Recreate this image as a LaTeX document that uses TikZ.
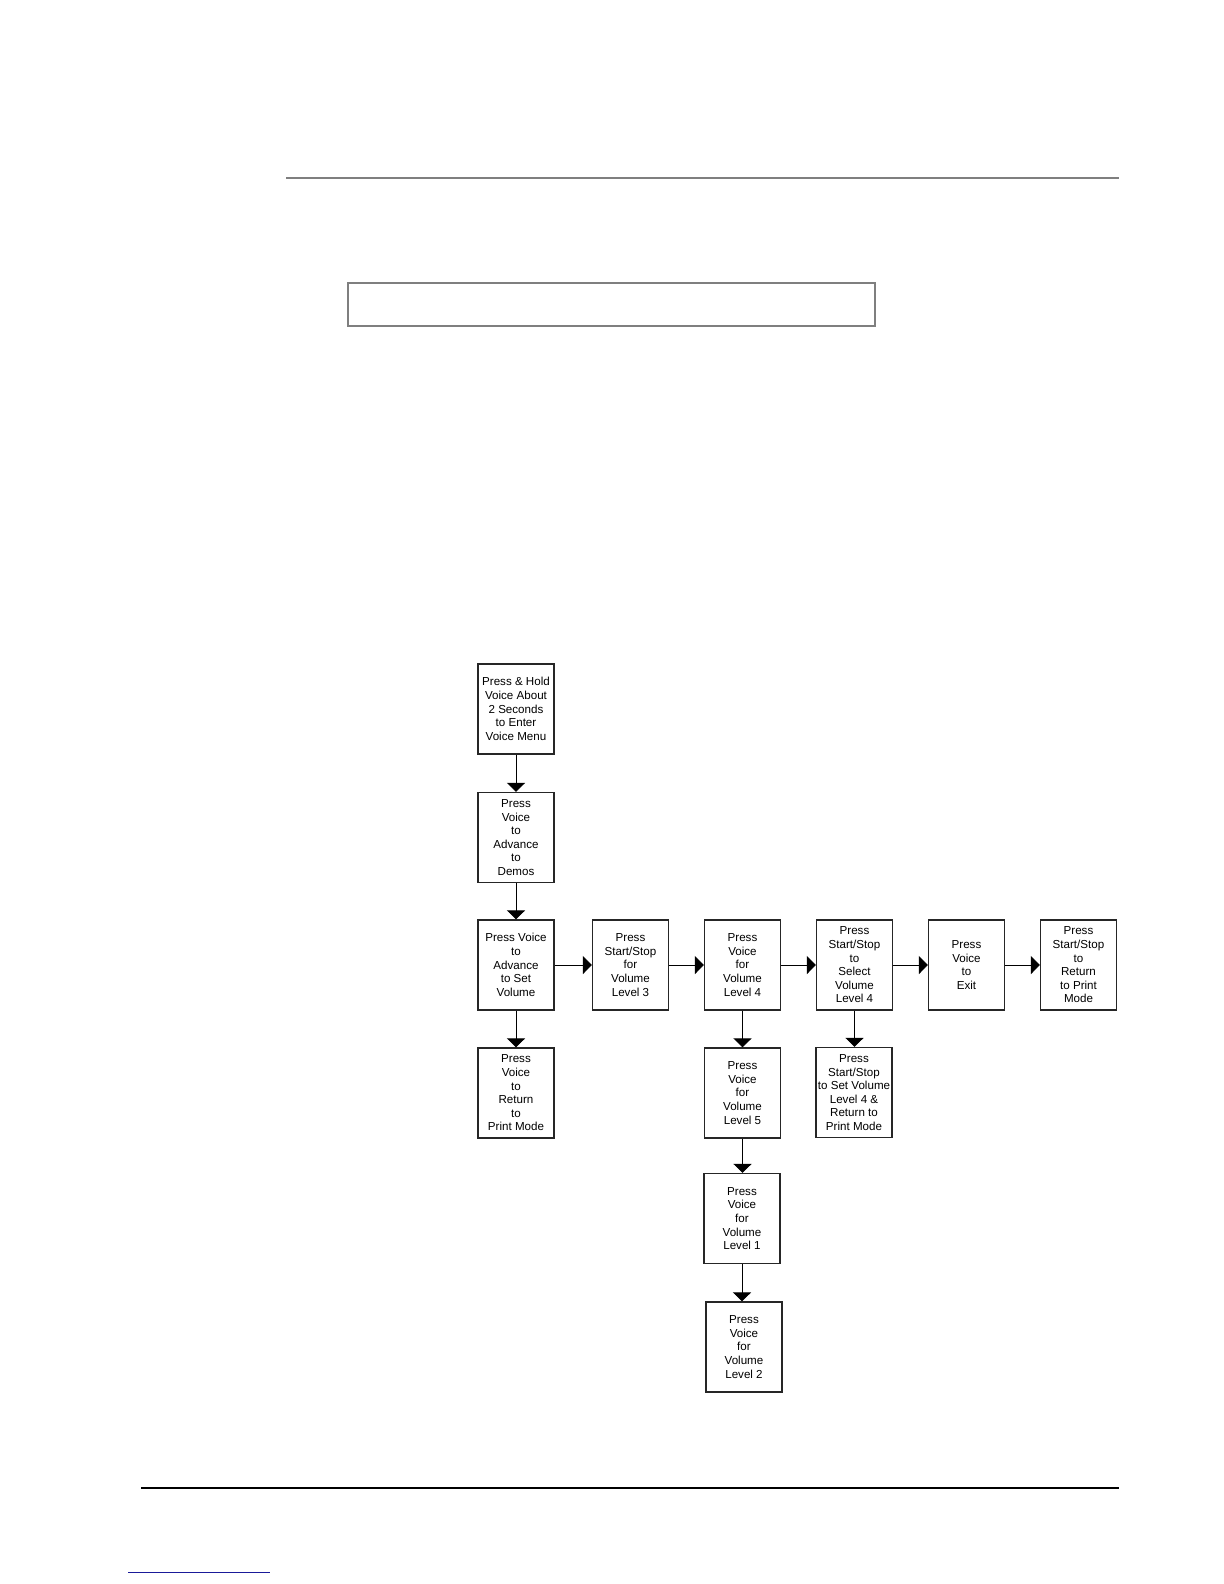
\documentclass[tikz,border=0pt]{standalone}
\usepackage{fontspec}
\setmainfont{Liberation Sans}
\usetikzlibrary{arrows.meta}
\definecolor{rulegray}{HTML}{7F7F7F}
\definecolor{linkblue}{HTML}{1A1A99}

\tikzset{
  flowbox/.style={draw=black!85, line width=0.6bp, fill=white, minimum width=38bp,
    minimum height=45bp, inner sep=0pt, align=center,
    font=\fontsize{5.8bp}{6.8bp}\selectfont},
  flowarrow/.style={-{Triangle[length=4.5bp, width=9bp]}, line width=0.5bp, black}
}

\begin{document}
\begin{tikzpicture}[x=0.5bp, y=-0.5bp]
    \useasboundingbox (0,0) rectangle (1224,1584);
    % page rules
    \draw[rulegray, line width=0.7bp] (286,178) -- (1119,178);
    \draw[rulegray, line width=0.7bp] (348,283) rectangle (875,326);
    \draw[black, line width=0.6bp] (141,1488) -- (1119,1488);
    \draw[linkblue, line width=0.5bp] (128,1572) -- (270,1572);

    % main column
    \node[flowbox] (hold) at (516,709) {Press \& Hold\\Voice About\\2 Seconds\\to Enter\\Voice Menu};
    \node[flowbox] (demos) at (516,837.5) {Press\\Voice\\to\\Advance\\to\\Demos};
    \node[flowbox] (setvol) at (516,965) {Press Voice\\to\\Advance\\to Set\\Volume};
    \node[flowbox] (retprint) at (516,1093) {Press\\Voice\\to\\Return\\to\\Print Mode};

    % volume row
    \node[flowbox] (lvl3) at (630.5,965) {Press\\Start/Stop\\for\\Volume\\Level 3};
    \node[flowbox] (lvl4) at (742.5,965) {Press\\Voice\\for\\Volume\\Level 4};
    \node[flowbox] (select) at (854.5,965) {Press\\Start/Stop\\to\\Select\\Volume\\Level 4};
    \node[flowbox] (exit) at (966.5,965) {Press\\Voice\\to\\Exit};
    \node[flowbox] (retmode) at (1078.5,965) {Press\\Start/Stop\\to\\Return\\to Print\\Mode};

    % branches below
    \node[flowbox] (setret) at (854,1092.5) {Press\\Start/Stop\\to Set Volume\\Level 4 \&\\Return to\\Print Mode};
    \node[flowbox] (lvl5) at (742.5,1093) {Press\\Voice\\for\\Volume\\Level 5};
    \node[flowbox] (lvl1) at (742,1218.5) {Press\\Voice\\for\\Volume\\Level 1};
    \node[flowbox] (lvl2) at (744,1347) {Press\\Voice\\for\\Volume\\Level 2};

    \draw[flowarrow] (hold) -- (demos);
    \draw[flowarrow] (demos) -- (setvol);
    \draw[flowarrow] (setvol) -- (retprint);
    \draw[flowarrow] (setvol) -- (lvl3);
    \draw[flowarrow] (lvl3) -- (lvl4);
    \draw[flowarrow] (lvl4) -- (select);
    \draw[flowarrow] (select) -- (exit);
    \draw[flowarrow] (exit) -- (retmode);
    \draw[flowarrow] (select.south) -- (select.south |- setret.north);
    \draw[flowarrow] (lvl4) -- (lvl5);
    \draw[flowarrow] (lvl5.south) -- (lvl5.south |- lvl1.north);
    \draw[flowarrow] (lvl1.south) -- (lvl1.south |- lvl2.north);
  \end{tikzpicture}
\end{document}
